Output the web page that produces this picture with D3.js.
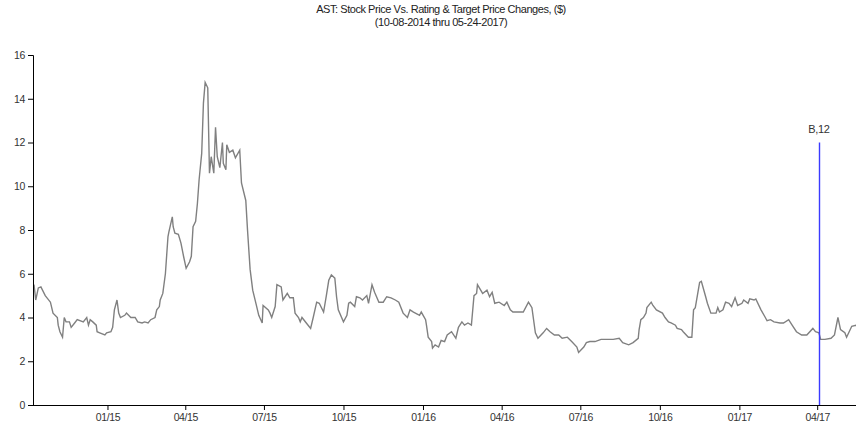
<!DOCTYPE html>
<html>
<head>
<meta charset="utf-8">
<script src="https://cdn.jsdelivr.net/npm/d3@7"></script>
<style>
  html, body { margin: 0; padding: 0; background: #fff; }
  svg { display: block; font-family: "Liberation Sans", Arial, sans-serif; }
  .axis path, .axis line { stroke: #000; }
  .axis text { fill: #333; font-size: 10.5px; letter-spacing: -0.4px; }
</style>
</head>
<body>
<div id="chart"></div>
<script>
const titleLines = ["AST: Stock Price Vs. Rating & Target Price Changes, ($)", "(10-08-2014 thru 05-24-2017)"]

// closing prices
const dates = [
"2014-10-08","2014-10-10","2014-10-13","2014-10-16","2014-10-21","2014-10-27","2014-10-30",
"2014-11-04","2014-11-05","2014-11-07","2014-11-10","2014-11-12","2014-11-14","2014-11-18","2014-11-20","2014-11-24","2014-11-27",
"2014-12-04","2014-12-08","2014-12-10","2014-12-12","2014-12-15","2014-12-19","2014-12-20","2014-12-23","2014-12-29","2014-12-31",
"2015-01-05","2015-01-07","2015-01-09","2015-01-12","2015-01-14","2015-01-16","2015-01-21","2015-01-23","2015-01-28",
"2015-02-02","2015-02-05","2015-02-10","2015-02-13","2015-02-17","2015-02-20","2015-02-25","2015-02-27",
"2015-03-02","2015-03-03","2015-03-06","2015-03-09","2015-03-12","2015-03-13","2015-03-17","2015-03-18","2015-03-20","2015-03-24","2015-03-27","2015-03-30",
"2015-04-02","2015-04-06","2015-04-08","2015-04-10","2015-04-13","2015-04-15","2015-04-17","2015-04-20","2015-04-22","2015-04-24","2015-04-27","2015-04-29",
"2015-05-01","2015-05-04","2015-05-06","2015-05-08","2015-05-11","2015-05-14","2015-05-15","2015-05-18","2015-05-19","2015-05-22","2015-05-26","2015-05-29",
"2015-06-03","2015-06-05","2015-06-10","2015-06-12","2015-06-15","2015-06-18","2015-06-22","2015-06-25","2015-06-29","2015-06-30",
"2015-07-06","2015-07-08","2015-07-10","2015-07-14","2015-07-16","2015-07-21","2015-07-23","2015-07-28","2015-07-31",
"2015-08-04","2015-08-06","2015-08-10","2015-08-12","2015-08-14","2015-08-19","2015-08-24","2015-08-27","2015-08-31",
"2015-09-03","2015-09-08","2015-09-11","2015-09-14","2015-09-17","2015-09-21","2015-09-23","2015-09-25",
"2015-10-01","2015-10-05","2015-10-07","2015-10-09","2015-10-14","2015-10-16","2015-10-20","2015-10-23","2015-10-28","2015-10-30",
"2015-11-03","2015-11-06","2015-11-11","2015-11-16","2015-11-20","2015-11-25","2015-11-30",
"2015-12-04","2015-12-09","2015-12-14","2015-12-17","2015-12-21","2015-12-28","2015-12-30",
"2016-01-04","2016-01-05","2016-01-07","2016-01-11","2016-01-12","2016-01-15","2016-01-19","2016-01-22","2016-01-26","2016-01-29",
"2016-02-03","2016-02-08","2016-02-11","2016-02-15","2016-02-18","2016-02-22","2016-02-26","2016-02-29",
"2016-03-03","2016-03-04","2016-03-10","2016-03-15","2016-03-18","2016-03-21","2016-03-24","2016-03-29",
"2016-04-04","2016-04-07","2016-04-11","2016-04-14","2016-04-20","2016-04-26",
"2016-05-02","2016-05-06","2016-05-10","2016-05-13","2016-05-19","2016-05-23","2016-05-27",
"2016-06-01","2016-06-06","2016-06-10","2016-06-16","2016-06-21","2016-06-27","2016-06-29",
"2016-07-05","2016-07-08","2016-07-12","2016-07-18","2016-07-25",
"2016-08-01","2016-08-08","2016-08-15","2016-08-19","2016-08-26","2016-08-31",
"2016-09-06","2016-09-07","2016-09-09","2016-09-12","2016-09-15","2016-09-16","2016-09-21","2016-09-23","2016-09-27",
"2016-10-04","2016-10-07","2016-10-11","2016-10-14","2016-10-19","2016-10-21","2016-10-26","2016-10-28",
"2016-11-03","2016-11-07","2016-11-09","2016-11-11","2016-11-16","2016-11-18","2016-11-23","2016-11-25","2016-11-29",
"2016-12-05","2016-12-07","2016-12-09","2016-12-13","2016-12-16","2016-12-20","2016-12-23","2016-12-27","2016-12-30",
"2017-01-04","2017-01-06","2017-01-11","2017-01-13","2017-01-18","2017-01-20","2017-01-26","2017-01-31",
"2017-02-02","2017-02-06","2017-02-10","2017-02-17","2017-02-21","2017-02-27",
"2017-03-03","2017-03-08","2017-03-14","2017-03-20","2017-03-27","2017-03-30",
"2017-04-03","2017-04-05","2017-04-10","2017-04-17","2017-04-21","2017-04-25","2017-04-28",
"2017-05-03","2017-05-05","2017-05-11","2017-05-16","2017-05-24"
]
const prices = [
5.5,4.8,5.35,5.4,5.0,4.7,4.2,
4.0,3.65,3.35,3.1,4.0,3.8,3.8,3.55,3.75,3.9,
3.8,4.0,3.65,3.9,3.8,3.65,3.35,3.3,3.2,3.3,
3.35,3.55,4.35,4.8,4.2,4.0,4.1,4.2,4.0,
4.0,3.8,3.75,3.8,3.75,3.9,4.0,4.35,
4.5,4.8,5.1,6.0,7.7,7.9,8.6,8.15,7.85,7.8,7.4,6.8,
6.25,6.55,6.8,8.15,8.4,9.2,10.3,11.5,13.8,14.75,14.5,10.6,
11.35,10.6,12.7,11.35,10.85,12.0,11.05,10.75,11.9,11.55,11.65,11.3,
11.65,10.15,9.35,8.0,6.2,5.25,4.6,4.1,3.75,4.55,
4.35,4.2,4.0,4.5,5.5,5.4,4.8,5.1,4.9,
4.9,4.2,4.0,3.8,4.0,3.75,3.5,4.0,4.7,
4.65,4.25,4.95,5.7,5.95,5.8,4.95,4.35,
3.8,4.1,4.65,4.7,4.5,4.95,4.9,4.8,5.0,4.65,
5.5,5.15,4.7,4.7,4.95,4.9,4.8,
4.7,4.2,4.0,4.35,4.25,4.1,4.25,
3.9,3.65,3.1,2.9,2.6,2.75,2.65,2.95,2.9,3.2,
3.35,3.05,3.55,3.8,3.65,3.75,3.65,5.0,
5.1,5.5,5.1,5.25,4.95,5.15,4.65,4.7,
4.55,4.7,4.35,4.25,4.25,4.25,
4.7,4.45,3.3,3.05,3.3,3.5,3.35,
3.2,3.2,3.05,3.1,2.9,2.65,2.4,
2.65,2.85,2.9,2.9,3.0,
3.0,3.0,3.05,2.85,2.75,2.85,
3.05,3.45,3.9,4.0,4.2,4.45,4.7,4.55,4.35,
4.2,4.0,3.8,3.75,3.65,3.5,3.45,3.35,
3.1,3.1,4.35,4.45,5.6,5.65,4.95,4.65,4.2,
4.2,4.45,4.25,4.35,4.7,4.65,4.5,4.9,4.55,
4.65,4.8,4.65,4.85,4.8,4.85,4.35,4.0,
3.85,3.9,3.8,3.75,3.75,3.9,
3.65,3.35,3.2,3.2,3.5,3.35,
3.3,3.0,3.0,3.05,3.2,4.0,3.45,
3.3,3.1,3.6,3.65,3.6
]

// rating / target price change markers
const markerDates = ["2017-04-03"]
const markerLabels = ["B,12"]
const markerValues = [12]

const yTicks = [0, 2, 4, 6, 8, 10, 12, 14, 16]
const xTickDates = ["2015-01-01","2015-04-01","2015-07-01","2015-10-01","2016-01-01","2016-04-01","2016-07-01","2016-10-01","2017-01-01","2017-04-01"]

const width = 856, height = 427
const margin = {top: 55, left: 33, bottom: 22}
const parse = d3.timeParse("%Y-%m-%d")

const data = dates.map((d, i) => ({date: parse(d), price: prices[i]}))

const svg = d3.select("#chart").append("svg")
    .attr("width", width)
    .attr("height", height)

const x = d3.scaleTime()
    .domain([parse("2014-10-08"), parse("2017-05-24")])
    .range([margin.left + 1, 863])

const y = d3.scaleLinear()
    .domain([0, 16])
    .range([height - margin.bottom, margin.top])

// title
svg.append("g").selectAll("text")
    .data(titleLines)
    .join("text")
    .attr("x", 441)
    .attr("y", (d, i) => 13 + i * 13)
    .attr("text-anchor", "middle")
    .attr("font-size", "11px")
    .attr("letter-spacing", "-0.45px")
    .attr("fill", "#222")
    .text(d => d)

// price line
const line = d3.line()
    .x(d => x(d.date))
    .y(d => y(d.price))

svg.append("path")
    .datum(data)
    .attr("fill", "none")
    .attr("stroke", "#808080")
    .attr("stroke-width", 1.4)
    .attr("d", line)

// axes
svg.append("g")
    .attr("class", "axis")
    .attr("transform", `translate(0,${height - margin.bottom})`)
    .call(d3.axisBottom(x)
        .tickValues(xTickDates.map(parse))
        .tickFormat(d3.timeFormat("%m/%y"))
        .tickSizeOuter(0)
        .tickSize(5)
        .tickPadding(4))
    .call(g => g.select(".domain").attr("d", `M${margin.left},0.5H${width}`))

svg.append("g")
    .attr("class", "axis")
    .attr("transform", `translate(${margin.left},0)`)
    .call(d3.axisLeft(y)
        .tickValues(yTicks)
        .tickSizeOuter(0)
        .tickSize(5)
        .tickPadding(3))

// markers
const markers = markerDates.map((d, i) => ({date: parse(d), label: markerLabels[i], value: markerValues[i]}))

svg.append("g").selectAll("line")
    .data(markers)
    .join("line")
    .attr("x1", d => Math.round(x(d.date)) + 0.5)
    .attr("x2", d => Math.round(x(d.date)) + 0.5)
    .attr("y1", y(0))
    .attr("y2", d => y(d.value))
    .attr("stroke", "#3b3bff")
    .attr("stroke-width", 1.4)

svg.append("g").selectAll("text")
    .data(markers)
    .join("text")
    .attr("x", d => x(d.date))
    .attr("y", d => y(d.value) - 10)
    .attr("text-anchor", "middle")
    .attr("font-size", "11px")
    .attr("letter-spacing", "-0.3px")
    .attr("fill", "#333")
    .text(d => d.label)
</script>
</body>
</html>
